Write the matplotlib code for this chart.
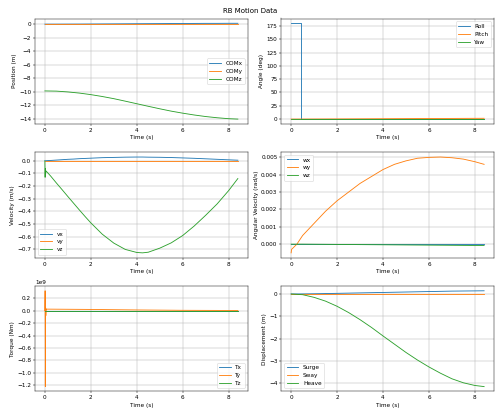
import numpy as np
import matplotlib
matplotlib.use("Agg")
import matplotlib.pyplot as plt

# time samples (s)
t = [0.0, 0.5, 1.0, 1.5, 2.0, 2.5, 3.0, 3.5, 4.0, 4.5, 5.0, 5.5, 6.0, 6.5, 7.0, 7.5, 8.0, 8.4]

# position (m)
com_x = [0.0, 0.0, 0.005, 0.01, 0.02, 0.03, 0.04, 0.05, 0.06, 0.07, 0.08, 0.09, 0.1, 0.11, 0.12, 0.12, 0.13, 0.13]
com_y = [0.0] * 18
com_z = [-9.9, -9.93, -10.05, -10.22, -10.45, -10.73, -11.05, -11.42, -11.8, -12.18, -12.55, -12.9, -13.2, -13.47, -13.7, -13.88, -14.02, -14.08]

# angles (deg)
t_ang = [0.0, 0.44, 0.44, 2.0, 4.0, 6.0, 8.4]
roll = [180.0, 180.0, 0.0, 0.0, 0.0, 0.0, 0.0]
pitch = [0.0, 0.05, 0.05, 0.3, 0.7, 1.1, 1.5]
yaw = [0.0, 0.0, 0.0, 0.0, 0.0, 0.0, 0.0]

# velocity (m/s)
t_vel = [0.0, 0.01, 0.02, 0.03, 0.05, 0.25, 0.5, 0.75, 1.0, 1.25, 1.5, 1.75, 2.0, 2.5, 3.0, 3.5, 4.0, 4.25, 4.5, 5.0,
         5.5, 6.0, 6.5, 7.0, 7.5, 8.0, 8.4]
vx = [0.0, 0.0, 0.0, 0.0, 0.001, 0.003, 0.006, 0.009, 0.012, 0.014, 0.017, 0.019, 0.021, 0.025, 0.027, 0.029, 0.03,
      0.03, 0.029, 0.028, 0.026, 0.023, 0.02, 0.016, 0.012, 0.008, 0.005]
vy = [0.0] * 27
vz = [0.0, -0.13, -0.06, -0.1, -0.08, -0.12, -0.175, -0.228, -0.282, -0.335, -0.388, -0.44, -0.49, -0.58, -0.65,
      -0.7, -0.724, -0.727, -0.722, -0.69, -0.648, -0.59, -0.515, -0.43, -0.34, -0.235, -0.14]

# angular velocity (rad/s)
t_w = [0.0, 0.02, 0.25, 0.5, 1.0, 1.5, 2.0, 2.5, 3.0, 3.5, 4.0, 4.5, 5.0, 5.5, 6.0, 6.5, 7.0, 7.5, 8.0, 8.4]
wx = [0.0] * 20
wy = [-0.0005, -0.0003, 0.0, 0.0005, 0.0012, 0.0019, 0.0025, 0.003, 0.0035, 0.0039, 0.0043, 0.0046, 0.0048,
      0.00495, 0.005, 0.00502, 0.00498, 0.0049, 0.00475, 0.0046]
wz = [0.0, 0.0, 0.0, 0.0, -0.000005, -0.00001, -0.000015, -0.00002, -0.000025, -0.00003, -0.000035, -0.00004,
      -0.000045, -0.00005, -0.000055, -0.00006, -0.000065, -0.00007, -0.000075, -0.00008]

# torque (Nm)
t_tq = [0.0, 0.01, 0.02, 0.03, 0.04, 0.06, 0.08, 2.0, 4.0, 6.0, 8.4]
tx = [0.0] * 11
ty = [0.0, 0.32e9, -1.22e9, 0.05e9, -0.08e9, 0.03e9, 0.025e9, 0.02e9, 0.012e9, 0.006e9, 0.003e9]
tz = [0.0] * 11

# displacement (m)
surge = [0.0, 0.003, 0.01, 0.02, 0.03, 0.04, 0.05, 0.06, 0.07, 0.08, 0.09, 0.1, 0.11, 0.12, 0.13, 0.135, 0.14, 0.145]
sway = [0.0] * 18
heave = [0.0, -0.03, -0.15, -0.32, -0.55, -0.83, -1.15, -1.5, -1.88, -2.25, -2.62, -2.96, -3.27, -3.55, -3.8,
         -3.98, -4.1, -4.15]

fig, axs = plt.subplots(3, 2, figsize=(12, 12 * 414 / 500), dpi=500 / 12)
fig.suptitle("RB Motion Data")

panels = [
    (axs[0, 0], t, [com_x, com_y, com_z], ["COMx", "COMy", "COMz"], "Position (m)", "center right"),
    (axs[0, 1], t_ang, [roll, pitch, yaw], ["Roll", "Pitch", "Yaw"], "Angle (deg)", "upper right"),
    (axs[1, 0], t_vel, [vx, vy, vz], ["vx", "vy", "vz"], "Velocity (m/s)", "lower left"),
    (axs[1, 1], t_w, [wx, wy, wz], ["wx", "wy", "wz"], "Angular Velocity (rad/s)", "upper left"),
    (axs[2, 0], t_tq, [tx, ty, tz], ["Tx", "Ty", "Tz"], "Torque (Nm)", "lower right"),
    (axs[2, 1], t, [surge, sway, heave], ["Surge", "Sway", "Heave"], "Displacement (m)", "lower left"),
]

for ax, x, series, names, ylab, loc in panels:
    for y, name in zip(series, names):
        ax.plot(x, y, label=name)
    ax.set_xlabel("Time (s)")
    ax.set_ylabel(ylab)
    ax.legend(loc=loc)
    ax.grid(True)

plt.tight_layout()
plt.savefig("out.png")
